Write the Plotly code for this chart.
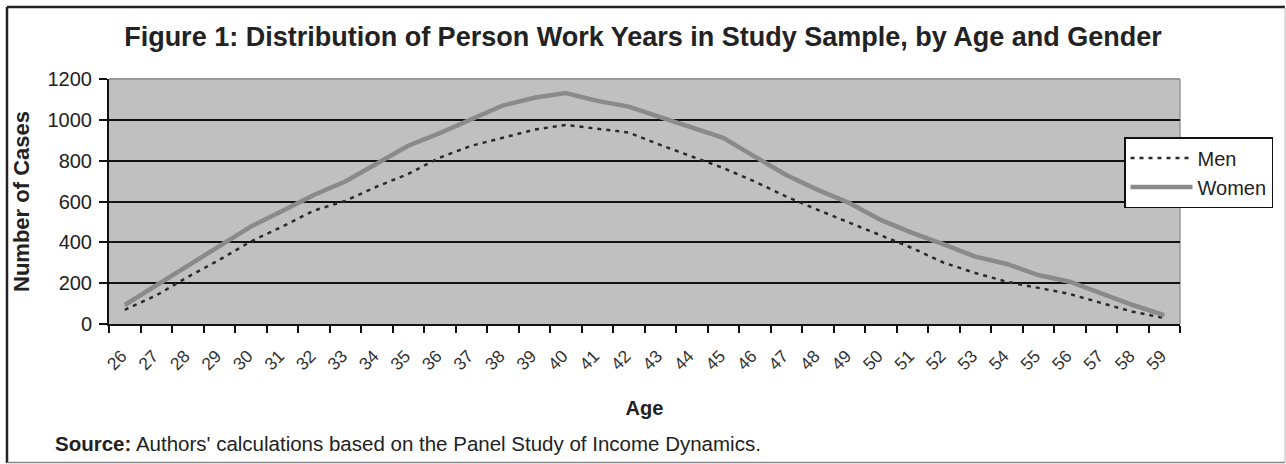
import plotly.graph_objects as go

ages = ["26", "27", "28", "29", "30", "31", "32", "33", "34", "35", "36", "37",
        "38", "39", "40", "41", "42", "43", "44", "45", "46", "47", "48", "49",
        "50", "51", "52", "53", "54", "55", "56", "57", "58", "59"]
men = [69, 140, 230, 314, 404, 477, 555, 603, 673, 735, 815, 873, 912, 952, 975, 955, 938,
       877, 820, 764, 698, 624, 559, 497, 436, 372, 300, 250, 207, 176, 147, 103, 60, 29]
women = [93, 190, 281, 382, 477, 554, 632, 698, 785, 873, 935, 1005, 1070, 1108, 1131, 1093, 1065,
         1013, 960, 912, 820, 730, 657, 593, 510, 446, 390, 330, 294, 240, 207, 152, 93, 44]
y_ticks = [0, 200, 400, 600, 800, 1000, 1200]

W, H = 1286, 464
ML, MR, MT, MB = 109, 106, 79, 140
PW, PH = W - ML - MR, H - MT - MB
FONT = "Arial, 'Liberation Sans', sans-serif"


def px(x):
    return (x - ML) / PW


def py(y):
    return (H - MB - y) / PH


fig = go.Figure()
fig.add_trace(go.Scatter(x=ages, y=men, name="Men", mode="lines",
                         line=dict(color="#2a2a2a", width=2.5, dash="4px,5px")))
fig.add_trace(go.Scatter(x=ages, y=women, name="Women", mode="lines",
                         line=dict(color="#8a8a8a", width=4.5)))

fig.update_layout(
    width=W, height=H,
    margin=dict(l=ML, r=MR, t=MT, b=MB, autoexpand=False),
    paper_bgcolor="white", plot_bgcolor="#c0c0c0",
    font=dict(family=FONT, color="#222"),
    title=dict(text="<b>Figure 1: Distribution of Person Work Years in Study Sample, by Age and Gender</b>",
               x=0.5, xref="container", xanchor="center",
               y=1 - 37 / H, yref="container", yanchor="middle",
               font=dict(size=27, color="#222", family=FONT)),
    legend=dict(x=px(1124), y=py(137), xanchor="left", yanchor="top",
                bgcolor="white", bordercolor="#111", borderwidth=1.5,
                font=dict(size=20, color="#222", family=FONT),
                itemwidth=62, tracegroupgap=0),
    showlegend=True,
)

fig.update_xaxes(
    type="category", range=[-0.5, len(ages) - 0.5],
    tickangle=-45, tickson="boundaries", ticks="outside", ticklen=7, tickwidth=1.5,
    tickcolor="#111", showline=True, linecolor="#111", linewidth=2,
    showgrid=False, zeroline=False,
    tickfont=dict(size=17.5, color="#333", family=FONT),
    ticklabelstandoff=13, ticklabelshift=-3,
    title=dict(text="<b>Age</b>", font=dict(size=20, color="#222", family=FONT), standoff=28),
    automargin=False,
)
fig.update_yaxes(
    range=[0, 1200], tickvals=y_ticks,
    ticks="outside", ticklen=8, tickwidth=1.5, tickcolor="#111",
    showline=True, linecolor="#111", linewidth=2,
    showgrid=True, gridcolor="#111", gridwidth=2, zeroline=False,
    tickfont=dict(size=20, color="#222", family=FONT),
    ticklabelstandoff=3,
    title=dict(text="<b>Number of Cases</b>", font=dict(size=22, color="#222", family=FONT), standoff=12),
    automargin=False,
)

# plot-area border (top/right in light gray, as in the original)
fig.add_shape(type="line", xref="paper", yref="paper", x0=0, x1=1, y0=1, y1=1,
              line=dict(color="#9a9a9a", width=2), layer="above")
fig.add_shape(type="line", xref="paper", yref="paper", x0=1, x1=1, y0=0, y1=1,
              line=dict(color="#9a9a9a", width=1.5), layer="below")

# outer frame
fig.add_shape(type="line", xref="paper", yref="paper", x0=px(7), x1=px(1285), y0=py(7), y1=py(7),
              line=dict(color="#222", width=2.5))
fig.add_shape(type="line", xref="paper", yref="paper", x0=px(7), x1=px(7), y0=py(7), y1=py(463),
              line=dict(color="#222", width=2.5))
fig.add_shape(type="line", xref="paper", yref="paper", x0=px(7), x1=px(1285), y0=py(462.5), y1=py(462.5),
              line=dict(color="#888", width=1.5))
fig.add_shape(type="line", xref="paper", yref="paper", x0=px(1285), x1=px(1285), y0=py(7), y1=py(463),
              line=dict(color="#bbb", width=1))

fig.add_annotation(text="<b>Source:</b> Authors' calculations based on the Panel Study of Income Dynamics.",
                   xref="paper", yref="paper", x=px(53), y=py(443), xanchor="left", yanchor="middle",
                   showarrow=False, font=dict(size=20.5, color="#222", family=FONT))

fig.write_html("out.html", config={"displayModeBar": False},
               post_script="document.body.style.margin='0';document.body.style.overflow='hidden';")
